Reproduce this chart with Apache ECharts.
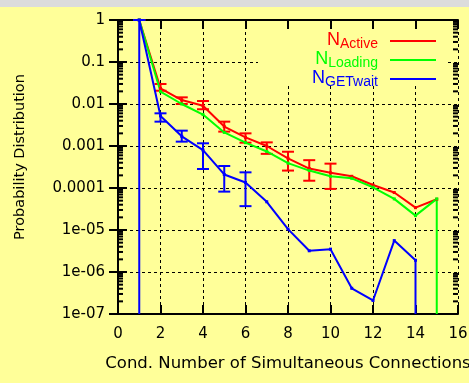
<!DOCTYPE html>
<html><head><meta charset="utf-8">
<script src="https://cdn.jsdelivr.net/npm/echarts@6/dist/echarts.min.js"></script>
<style>html,body{margin:0;padding:0;background:#ffff99;}#c{width:469px;height:383px;}</style>
</head><body><div id="c"></div>
<script>
// ---- data ----
const xValues = [1, 2, 3, 4, 5, 6, 7, 8, 9, 10, 11, 12, 13, 14, 15];
const activeValues  = [1, 0.0236, 0.0124, 0.0091, 0.0029, 0.0016, 0.001, 0.00051, 0.00029, 0.00023, 0.00019, 0.000118, 7.8e-5, 3.4e-5, 5.4e-5];
const loadingValues = [1, 0.0196, 0.010, 0.0056, 0.0021, 0.0012, 0.00074, 0.00039, 0.00026, 0.00019, 0.00017, 0.000104, 5.5e-5, 2.2e-5, 5.5e-5];
const getwaitX      = [1, 2, 3, 4, 5, 6, 7, 8, 9, 10, 11, 12, 13, 14];
const getwaitValues = [1, 0.0052, 0.0017, 0.0008, 0.00021, 0.000135, 4.7e-5, 1.05e-5, 3.2e-6, 3.5e-6, 4.1e-7, 2.1e-7, 5.6e-6, 1.9e-6];
const activeErrX    = [1, 2, 3, 4, 5, 6, 7, 8, 9, 10];
const activeErrLow  = [1, 0.0207, 0.0100, 0.0075, 0.0022, 0.0012, 0.00065, 0.00026, 0.000149, 9.5e-5];
const activeErrHigh = [1, 0.0299, 0.0144, 0.0118, 0.0038, 0.0020, 0.00122, 0.00073, 0.00046, 0.00038];
const getwaitErrX    = [1, 2, 3, 4, 5, 6];
const getwaitErrLow  = [1, 0.0038, 0.00127, 0.000283, 8.2e-5, 3.7e-5];
const getwaitErrHigh = [1, 0.0060, 0.00232, 0.00116, 0.000334, 0.000236];
const axisFloor = 1e-7;           // value where lines drop to the bottom of the log axis
const yTickLabels = ['1e-07', '1e-06', '1e-05', '0.0001', '0.001', '0.01', '0.1', '1'];
const yMinorMultipliers = [2, 3, 4, 5, 6, 7, 8, 9];
const yDecades = [-7, -6, -5, -4, -3, -2, -1];
const seriesNames = ['Active', 'Loading', 'GETwait'];
const seriesColors = ['#ff0000', '#00ff00', '#0000ff'];

// ---- build ----
const FONT = 'DejaVu Sans';
const LFONT = 'Liberation Sans';
const X_MIN = 0, X_MAX = 16;
const pt = (x, y) => [x, y];
const dropPt = (x) => ({ value: [x, axisFloor], symbol: 'none' });

const activeData = xValues.map((x, i) => pt(x, activeValues[i]));
const loadingData = xValues.map((x, i) => pt(x, loadingValues[i]));
loadingData.push(dropPt(15));
const getwaitData = [dropPt(1)].concat(getwaitX.map((x, i) => pt(x, getwaitValues[i])));
getwaitData.push(dropPt(14));

const minorVals = [];
yDecades.forEach(d => yMinorMultipliers.forEach(m => minorVals.push(m * Math.pow(10, d))));

function errRender(color) {
  return function (params, api) {
    const x = api.value(0), lo = api.value(1), hi = api.value(2);
    const a = api.coord([x, lo]), b = api.coord([x, hi]);
    const hw = 6, st = { stroke: color, lineWidth: 2 };
    return { type: 'group', children: [
      { type: 'line', shape: { x1: a[0], y1: a[1], x2: b[0], y2: b[1] }, style: st },
      { type: 'line', shape: { x1: a[0] - hw, y1: a[1], x2: a[0] + hw, y2: a[1] }, style: st },
      { type: 'line', shape: { x1: b[0] - hw, y1: b[1], x2: b[0] + hw, y2: b[1] }, style: st }
    ]};
  };
}

function lineSeries(name, color, data, z) {
  return { name, type: 'line', data, z, color, symbol: 'rect', symbolSize: 3, showSymbol: true,
    lineStyle: { color, width: 2 }, itemStyle: { color }, clip: true, silent: true };
}

const legendTops = [25, 44, 63];
const legends = seriesNames.map((nm, i) => ({
  data: [nm], right: 33, top: legendTops[i], align: 'right', orient: 'vertical',
  padding: 0, itemWidth: 46, itemHeight: 2, icon: 'rect', selectedMode: false,
  formatter: () => '{n|N}{s|' + nm + '}',
  textStyle: { color: seriesColors[i], rich: {
    n: { fontSize: 18, fontFamily: LFONT, color: seriesColors[i], lineHeight: 20, verticalAlign: 'top' },
    s: { fontSize: 14, fontFamily: LFONT, color: seriesColors[i], lineHeight: 14, verticalAlign: 'bottom', padding: [12, 7, 0, 0] }
  }}
}));

const axisCommon = {
  axisLine: { lineStyle: { color: '#000', width: 2 } },
  axisTick: { inside: true, length: 9, lineStyle: { color: '#000', width: 2 } }
};
const gridLine = { show: true, lineStyle: { color: '#000', width: 1, type: [3, 3] } };

const baseGraphics = [
  { type: 'rect', left: 0, top: 0, shape: { width: 469, height: 7 }, style: { fill: '#dcdcdc' }, z: 0 },
  { type: 'rect', left: 258, top: 31, shape: { width: 190, height: 55 }, style: { fill: '#ffff99' }, z: 1 }
];

const option = {
  backgroundColor: '#ffff99',
  animation: false,
  grid: { left: 118, right: 11, top: 20, bottom: 69, containLabel: false, outerBoundsMode: 'none' },
  legend: legends,
  graphic: { elements: baseGraphics },
  xAxis: [
    Object.assign({ type: 'value', min: X_MIN, max: X_MAX, interval: 2, position: 'bottom',
      name: 'Cond. Number of Simultaneous Connections', nameLocation: 'middle', nameGap: 41,
      nameTextStyle: { fontFamily: FONT, fontSize: 16.5, color: '#000' },
      axisLabel: { margin: 13, fontFamily: FONT, fontSize: 15, color: '#000' },
      splitLine: gridLine }, axisCommon),
    Object.assign({ type: 'value', min: X_MIN, max: X_MAX, interval: 2, position: 'top',
      axisLabel: { show: false }, splitLine: { show: false } }, axisCommon)
  ],
  yAxis: [
    Object.assign({ type: 'log', logBase: 10, min: 1e-7, max: 1, position: 'left',
      name: 'Probability Distribution', nameLocation: 'middle', nameRotate: 90, nameGap: 90,
      nameTextStyle: { fontFamily: FONT, fontSize: 14.5, color: '#000', padding: [0, 0, 0, 20] },
      axisLabel: { margin: 13, fontFamily: FONT, fontSize: 15, color: '#000',
        formatter: v => yTickLabels[Math.round(Math.log10(v)) + 7] },
      splitLine: gridLine }, axisCommon),
    Object.assign({ type: 'log', logBase: 10, min: 1e-7, max: 1, position: 'right',
      axisLabel: { show: false }, splitLine: { show: false } }, axisCommon)
  ],
  series: [
    { type: 'custom', name: 'activeErr', data: activeErrX.map((x, i) => [x, activeErrLow[i], activeErrHigh[i]]),
      encode: { x: 0, y: [1, 2] }, renderItem: errRender(seriesColors[0]), z: 3, silent: true },
    lineSeries('Active', seriesColors[0], activeData, 3),
    lineSeries('Loading', seriesColors[1], loadingData, 3),
    { type: 'custom', name: 'getwaitErr', data: getwaitErrX.map((x, i) => [x, getwaitErrLow[i], getwaitErrHigh[i]]),
      encode: { x: 0, y: [1, 2] }, renderItem: errRender(seriesColors[2]), z: 4, silent: true },
    lineSeries('GETwait', seriesColors[2], getwaitData, 4)
  ]
};
const chart = echarts.init(document.getElementById('c'), null, { renderer: 'canvas' });
chart.setOption(option);

// minor log ticks (2..9 per decade) on both y edges, placed with the axis' own scale
const pxL = chart.convertToPixel({ xAxisIndex: 0 }, X_MIN);
const pxR = chart.convertToPixel({ xAxisIndex: 0 }, X_MAX);
const tickLines = [];
minorVals.forEach(v => {
  const py = chart.convertToPixel({ yAxisIndex: 0 }, v);
  tickLines.push({ type: 'line', shape: { x1: pxL, y1: py, x2: pxL + 5, y2: py }, style: { stroke: '#000', lineWidth: 2 }, z: 10 });
  tickLines.push({ type: 'line', shape: { x1: pxR - 5, y1: py, x2: pxR, y2: py }, style: { stroke: '#000', lineWidth: 2 }, z: 10 });
});
chart.setOption({ graphic: { elements: baseGraphics.concat(tickLines) } });
</script></body></html>
